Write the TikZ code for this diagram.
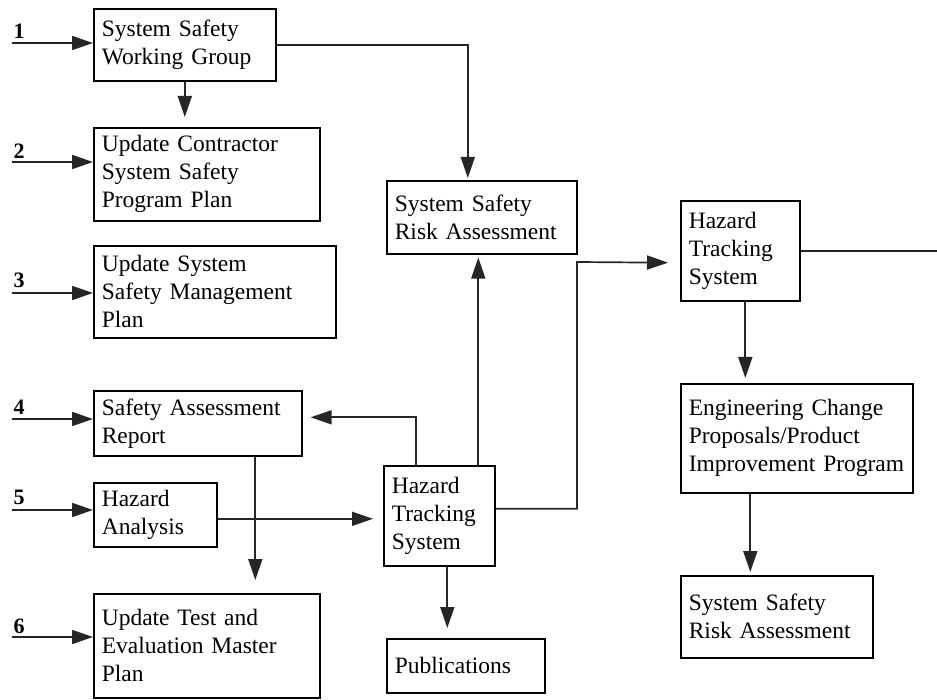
\documentclass[tikz,border=0pt]{standalone}
\usepackage{fontspec}
\setmainfont{Liberation Serif}
\usetikzlibrary{arrows.meta}
\begin{document}
\begin{tikzpicture}[x=1pt,y=-1pt,
  blk/.style={draw, line width=1.6pt, inner xsep=8pt, inner ysep=0pt,
    align=left, anchor=north west, font=\fontsize{23.5}{28}\selectfont},
  con/.style={line width=1.7pt, draw=black!85, -{Triangle[length=21pt,width=14pt]}},
  lin/.style={line width=1.7pt, draw=black!85},
  num/.style={font=\fontsize{22}{22}\selectfont\bfseries}]
\useasboundingbox (0,0) rectangle (937,700);

% boxes
\node[blk, text width=166pt, minimum height=72pt] (sswg) at (93,8) {System Safety\\Working Group};
\node[blk, text width=210pt, minimum height=93pt] (ucp) at (93,127) {Update Contractor\\System Safety\\Program Plan};
\node[blk, text width=226pt, minimum height=92pt] (usm) at (93,245) {Update System\\Safety Management\\Plan};
\node[blk, text width=192pt, minimum height=65pt] (sar) at (93,390) {Safety Assessment\\Report};
\node[blk, text width=107pt, minimum height=64pt] (ha) at (93,482) {Hazard\\Analysis};
\node[blk, text width=210pt, minimum height=104pt] (tem) at (93,593) {Update Test and\\Evaluation Master\\Plan};
\node[blk, text width=174pt, minimum height=73pt] (ssra) at (386,180) {System Safety\\Risk Assessment};
\node[blk, text width=95pt, minimum height=100pt] (hts) at (383,465) {Hazard\\Tracking\\System};
\node[blk, text width=142pt, minimum height=54pt] (pub) at (386,638) {Publications};
\node[blk, text width=103pt, minimum height=100pt] (hts2) at (680,200) {Hazard\\Tracking\\System};
\node[blk, text width=216pt, minimum height=109pt] (ecp) at (680,383) {Engineering Change\\Proposals/Product\\Improvement Program};
\node[blk, text width=176pt, minimum height=82pt] (ssra2) at (680,575) {System Safety\\Risk Assessment};

% numbered inputs
\coordinate (i1) at (12,43);
\coordinate (i2) at (12,162);
\coordinate (i3) at (12,293);
\coordinate (i4) at (12,419);
\coordinate (i5) at (12,510);
\coordinate (i6) at (12,637);
\node[num] (n1) at (19,31) {1};
\node[num] (n2) at (19,151) {2};
\node[num] (n3) at (19,280) {3};
\node[num] (n4) at (19,407) {4};
\node[num] (n5) at (19,497) {5};
\node[num] (n6) at (19,626) {6};
\draw[con] (i1) -- (i1 -| sswg.west);
\draw[con] (i2) -- (i2 -| ucp.west);
\draw[con] (i3) -- (i3 -| usm.west);
\draw[con] (i4) -- (i4 -| sar.west);
\draw[con] (i5) -- (i5 -| ha.west);
\draw[con] (i6) -- (i6 -| tem.west);

% connectors
\draw[con, shorten >=10pt] (sswg.south) -- (sswg.south |- ucp.north);
\draw[con, shorten >=2pt] (sswg.east) -| ([xshift=-14pt]ssra.north);
\draw[con, shorten >=3pt] ([xshift=39pt]hts.north) -- ([xshift=39pt]hts.north |- ssra.south);
\draw[con, shorten >=8pt] ([xshift=-23pt]hts.north) |- ([yshift=6pt]sar.east);
\draw[con, shorten >=13pt] ([xshift=57.5pt]sar.south) -- ([xshift=57.5pt]sar.south |- tem.north);
\draw[con, shorten >=10pt] ([yshift=-4pt]ha.east) -- ([yshift=-4pt]ha.east -| hts.west);
\coordinate (j1) at (577,262);
\draw[con, shorten >=12pt] ([yshift=7pt]hts.east) -| (j1) -- ([yshift=-12pt]hts2.west);
\coordinate (o1) at (937,250);
\draw[lin] (hts2.east) -- (hts2.east -| o1);
\draw[con, shorten >=5pt] ([xshift=5pt]hts2.south) -- ([xshift=5pt]hts2.south |- ecp.north);
\draw[con, shorten >=3pt] ([xshift=-46.5pt]ecp.south) -- ([xshift=-46.5pt]ecp.south |- ssra2.north);
\draw[con, shorten >=10pt] ([xshift=8pt]hts.south) -- ([xshift=8pt]hts.south |- pub.north);
\end{tikzpicture}
\end{document}
